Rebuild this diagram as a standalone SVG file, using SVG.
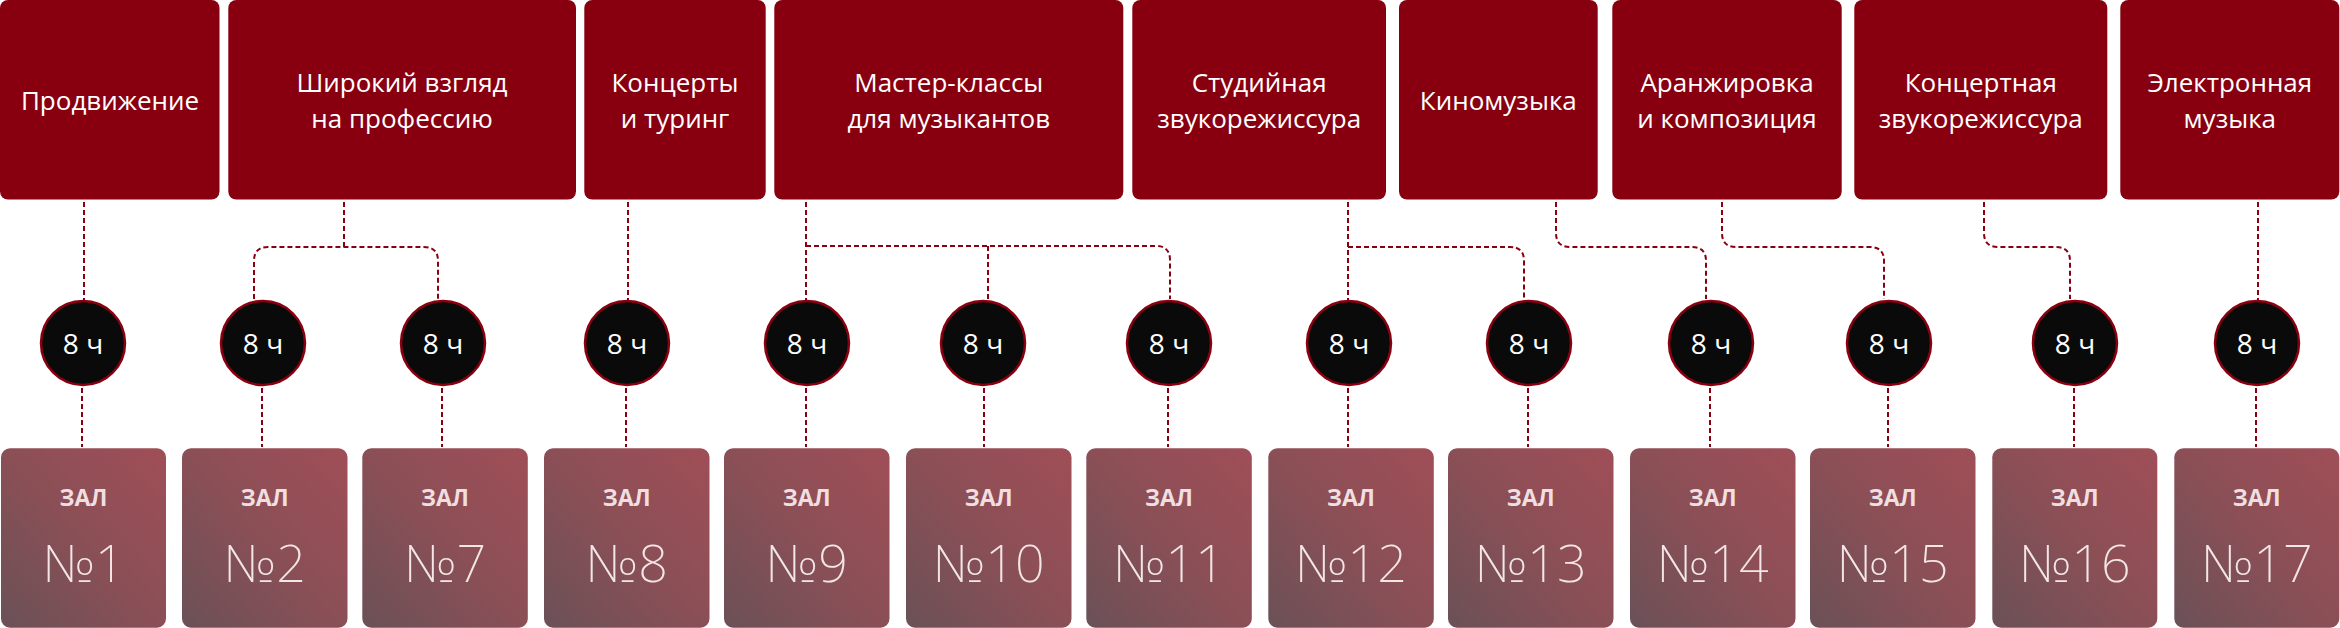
<svg xmlns="http://www.w3.org/2000/svg" width="2340" height="628" viewBox="0 0 2340 628">
<defs>
<linearGradient id="hall" x1="0" y1="1" x2="1" y2="0">
<stop offset="0" stop-color="#6a5157"/>
<stop offset="0.5" stop-color="#8b4f56"/>
<stop offset="1" stop-color="#a04e57"/>
</linearGradient>
<style>
.top rect{fill:#88000f}
.top text{fill:#ffffff;font-family:"Open Sans","Noto Sans",sans-serif;font-size:26px;text-anchor:middle}
.dur circle{fill:#0a0a0a;stroke:#8b0010;stroke-width:2.5}
.dur text{fill:#ffffff;font-family:"Open Sans","Noto Sans",sans-serif;font-size:28px;text-anchor:middle}
.hall rect{fill:url(#hall)}
.hall .lbl{fill:#f0dfe0;font-family:"Open Sans","Noto Sans",sans-serif;font-size:23px;font-weight:700;text-anchor:middle}
.hall .num{fill:#f3e6e6;font-family:"Noto Sans","Open Sans",sans-serif;font-size:52px;font-weight:200;text-anchor:middle}
#connectors path{fill:none;stroke:#8b0010;stroke-width:2;stroke-dasharray:5 3}
</style>
</defs>
<rect width="2340" height="628" fill="#ffffff"/>

<g id="connectors">
<path d="M84 202V300"/>
<path d="M344 202V247"/>
<path d="M254 299V261Q254 247 268 247H424Q438 247 438 261V299"/>
<path d="M628 202V300"/>
<path d="M806 202V300"/>
<path d="M806 246H1156Q1170 246 1170 260V299"/>
<path d="M988 246V299"/>
<path d="M1348 202V300"/>
<path d="M1348 247H1510Q1524 247 1524 261V299"/>
<path d="M1556 202V233Q1556 247 1570 247H1692Q1706 247 1706 261V299"/>
<path d="M1722 202V233Q1722 247 1736 247H1870Q1884 247 1884 261V299"/>
<path d="M1984 202V233Q1984 247 1998 247H2056Q2070 247 2070 261V299"/>
<path d="M2258 202V300"/>
<path d="M82 388V447"/>
<path d="M262 388V447"/>
<path d="M442 388V447"/>
<path d="M626 388V447"/>
<path d="M806 388V447"/>
<path d="M984 388V447"/>
<path d="M1168 388V447"/>
<path d="M1348 388V447"/>
<path d="M1528 388V447"/>
<path d="M1710 388V447"/>
<path d="M1888 388V447"/>
<path d="M2074 388V447"/>
<path d="M2256 388V447"/>
</g>

<g id="topic-1" class="top"><rect x="0" y="0" width="219.5" height="199.5" rx="8"/><text x="110" y="110">Продвижение</text></g>
<g id="topic-2" class="top"><rect x="228.3" y="0" width="347.7" height="199.5" rx="8"/><text x="402" y="92">Широкий взгляд</text><text x="402" y="128">на профессию</text></g>
<g id="topic-3" class="top"><rect x="584.3" y="0" width="181.4" height="199.5" rx="8"/><text x="675" y="92">Концерты</text><text x="675" y="128">и туринг</text></g>
<g id="topic-4" class="top"><rect x="774.3" y="0" width="349" height="199.5" rx="8"/><text x="948.8" y="92">Мастер-классы</text><text x="948.8" y="128">для музыкантов</text></g>
<g id="topic-5" class="top"><rect x="1132.3" y="0" width="253.7" height="199.5" rx="8"/><text x="1259.2" y="92">Студийная</text><text x="1259.2" y="128">звукорежиссура</text></g>
<g id="topic-6" class="top"><rect x="1399" y="0" width="198.7" height="199.5" rx="8"/><text x="1498.3" y="110">Киномузыка</text></g>
<g id="topic-7" class="top"><rect x="1612.3" y="0" width="229.4" height="199.5" rx="8"/><text x="1727" y="92">Аранжировка</text><text x="1727" y="128">и композиция</text></g>
<g id="topic-8" class="top"><rect x="1854.3" y="0" width="253" height="199.5" rx="8"/><text x="1980.8" y="92">Концертная</text><text x="1980.8" y="128">звукорежиссура</text></g>
<g id="topic-9" class="top"><rect x="2120.3" y="0" width="219" height="199.5" rx="8"/><text x="2229.8" y="92">Электронная</text><text x="2229.8" y="128">музыка</text></g>

<g id="dur-1" class="dur"><circle cx="83" cy="343" r="42"/><text x="83" y="354">8 ч</text></g>
<g id="dur-2" class="dur"><circle cx="263" cy="343" r="42"/><text x="263" y="354">8 ч</text></g>
<g id="dur-3" class="dur"><circle cx="443" cy="343" r="42"/><text x="443" y="354">8 ч</text></g>
<g id="dur-4" class="dur"><circle cx="627" cy="343" r="42"/><text x="627" y="354">8 ч</text></g>
<g id="dur-5" class="dur"><circle cx="807" cy="343" r="42"/><text x="807" y="354">8 ч</text></g>
<g id="dur-6" class="dur"><circle cx="983" cy="343" r="42"/><text x="983" y="354">8 ч</text></g>
<g id="dur-7" class="dur"><circle cx="1169" cy="343" r="42"/><text x="1169" y="354">8 ч</text></g>
<g id="dur-8" class="dur"><circle cx="1349" cy="343" r="42"/><text x="1349" y="354">8 ч</text></g>
<g id="dur-9" class="dur"><circle cx="1529" cy="343" r="42"/><text x="1529" y="354">8 ч</text></g>
<g id="dur-10" class="dur"><circle cx="1711" cy="343" r="42"/><text x="1711" y="354">8 ч</text></g>
<g id="dur-11" class="dur"><circle cx="1889" cy="343" r="42"/><text x="1889" y="354">8 ч</text></g>
<g id="dur-12" class="dur"><circle cx="2075" cy="343" r="42"/><text x="2075" y="354">8 ч</text></g>
<g id="dur-13" class="dur"><circle cx="2257" cy="343" r="42"/><text x="2257" y="354">8 ч</text></g>

<g id="hall-1" class="hall"><rect x="1" y="448.3" width="165" height="179.4" rx="9"/><text class="lbl" x="83.5" y="506">ЗАЛ</text><text class="num" x="83.5" y="582">№1</text></g>
<g id="hall-2" class="hall"><rect x="182" y="448.3" width="165.5" height="179.4" rx="9"/><text class="lbl" x="264.7" y="506">ЗАЛ</text><text class="num" x="264.7" y="582">№2</text></g>
<g id="hall-7" class="hall"><rect x="362.3" y="448.3" width="165.5" height="179.4" rx="9"/><text class="lbl" x="445" y="506">ЗАЛ</text><text class="num" x="445" y="582">№7</text></g>
<g id="hall-8" class="hall"><rect x="544" y="448.3" width="165.5" height="179.4" rx="9"/><text class="lbl" x="626.7" y="506">ЗАЛ</text><text class="num" x="626.7" y="582">№8</text></g>
<g id="hall-9" class="hall"><rect x="724" y="448.3" width="165.5" height="179.4" rx="9"/><text class="lbl" x="806.7" y="506">ЗАЛ</text><text class="num" x="806.7" y="582">№9</text></g>
<g id="hall-10" class="hall"><rect x="906" y="448.3" width="165.5" height="179.4" rx="9"/><text class="lbl" x="988.7" y="506">ЗАЛ</text><text class="num" x="988.7" y="582">№10</text></g>
<g id="hall-11" class="hall"><rect x="1086.3" y="448.3" width="165.5" height="179.4" rx="9"/><text class="lbl" x="1169" y="506">ЗАЛ</text><text class="num" x="1169" y="582">№11</text></g>
<g id="hall-12" class="hall"><rect x="1268.3" y="448.3" width="165.5" height="179.4" rx="9"/><text class="lbl" x="1351" y="506">ЗАЛ</text><text class="num" x="1351" y="582">№12</text></g>
<g id="hall-13" class="hall"><rect x="1448" y="448.3" width="165.5" height="179.4" rx="9"/><text class="lbl" x="1530.7" y="506">ЗАЛ</text><text class="num" x="1530.7" y="582">№13</text></g>
<g id="hall-14" class="hall"><rect x="1630" y="448.3" width="165.5" height="179.4" rx="9"/><text class="lbl" x="1712.7" y="506">ЗАЛ</text><text class="num" x="1712.7" y="582">№14</text></g>
<g id="hall-15" class="hall"><rect x="1810" y="448.3" width="165.5" height="179.4" rx="9"/><text class="lbl" x="1892.7" y="506">ЗАЛ</text><text class="num" x="1892.7" y="582">№15</text></g>
<g id="hall-16" class="hall"><rect x="1992.3" y="448.3" width="165" height="179.4" rx="9"/><text class="lbl" x="2074.8" y="506">ЗАЛ</text><text class="num" x="2074.8" y="582">№16</text></g>
<g id="hall-17" class="hall"><rect x="2174.3" y="448.3" width="165" height="179.4" rx="9"/><text class="lbl" x="2256.8" y="506">ЗАЛ</text><text class="num" x="2256.8" y="582">№17</text></g>
</svg>
